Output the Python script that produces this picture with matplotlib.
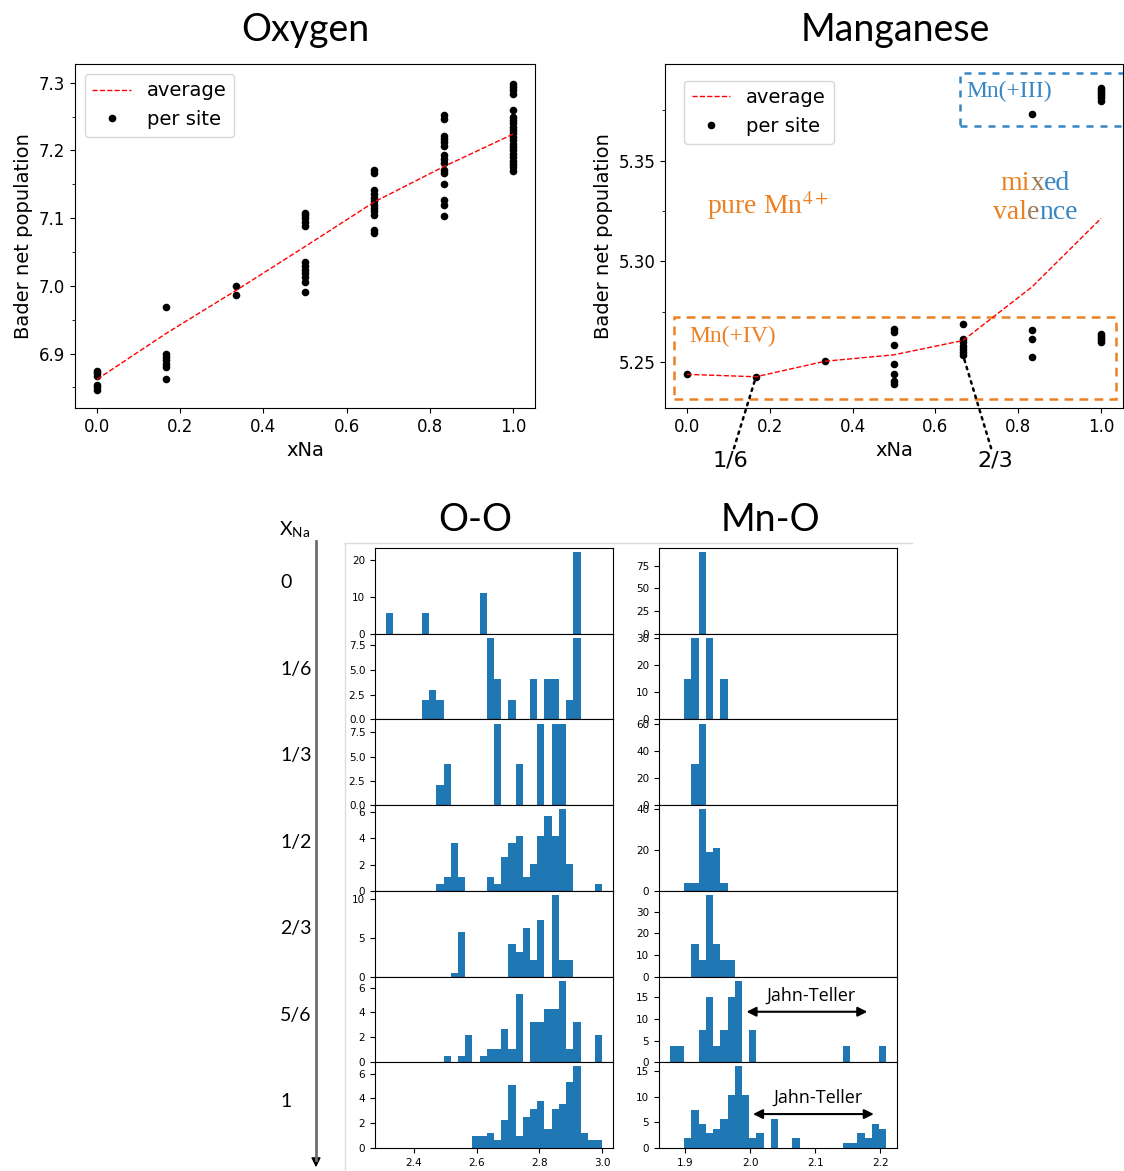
"""
Bader populations and bond-length histograms vs Na content.
Saves out.png (1124 x 1171 px).
"""
import numpy as np
import matplotlib
matplotlib.use("Agg")
import matplotlib.pyplot as plt
from matplotlib.ticker import AutoMinorLocator
from matplotlib.patches import Rectangle, FancyArrowPatch
from matplotlib.lines import Line2D
from matplotlib import transforms as mtransforms

plt.rcParams.update({
    'font.family': 'DejaVu Sans',
    'mathtext.fontset': 'stix',
})

W, H = 1124, 1171
ORANGE = '#ec8124'
BLUE = '#3785c3'
BROWN = '#9a7b5a'
BAR = '#1f77b4'

# ---------------------------------------------------------------------------
# data
# ---------------------------------------------------------------------------
XNA = [0, 1/6, 1/3, 1/2, 2/3, 5/6, 1]
XNA_LABELS = ['0', '1/6', '1/3', '1/2', '2/3', '5/6', '1']

OX_SITES = [
    [6.874, 6.871, 6.867, 6.853, 6.850, 6.847],
    [6.969, 6.900, 6.895, 6.890, 6.885, 6.880, 6.862],
    [7.000, 6.986],
    [7.108, 7.104, 7.100, 7.095, 7.089, 7.035, 7.030, 7.024, 7.019, 7.013,
     7.005, 6.991],
    [7.171, 7.166, 7.141, 7.136, 7.130, 7.125, 7.120, 7.115, 7.110, 7.104,
     7.082, 7.078],
    [7.252, 7.247, 7.222, 7.217, 7.212, 7.206, 7.193, 7.188, 7.181, 7.171,
     7.167, 7.151, 7.127, 7.120, 7.103],
    [7.298, 7.294, 7.289, 7.284, 7.259, 7.250, 7.245, 7.240, 7.235, 7.230,
     7.225, 7.220, 7.215, 7.210, 7.205, 7.200, 7.195, 7.190, 7.185, 7.180,
     7.175, 7.170],
]
OX_AVG = [6.862, 6.930, 6.993, 7.058, 7.124, 7.176, 7.224]

MN_SITES = [
    [5.2440],
    [5.2428],
    [5.2507],
    [5.2667, 5.2652, 5.2588, 5.2493, 5.2440, 5.2407, 5.2394],
    [5.2692, 5.2617, 5.2600, 5.2583, 5.2566, 5.2550, 5.2535],
    [5.3732, 5.2662, 5.2614, 5.2525],
    [5.3859, 5.3850, 5.3840, 5.3830, 5.3820, 5.3810, 5.3795,
     5.2639, 5.2630, 5.2620, 5.2610, 5.2600],
]
MN_AVG = [5.2440, 5.2428, 5.2505, 5.2537, 5.2608, 5.2874, 5.3214]

# O-O distances (A): 30 bins between 2.31 and 3.0, density per bin
OO_EDGES = np.linspace(2.31, 3.0, 31)
OO_HEIGHTS = [
    [5.5, 0, 0, 0, 0, 5.5, 0, 0, 0, 0, 0, 0, 0, 11.1, 0,
     0, 0, 0, 0, 0, 0, 0, 0, 0, 0, 0, 22.0, 0, 0, 0],
    [0, 0, 0, 0, 0, 2.0, 3.0, 2.0, 0, 0, 0, 0, 0, 0, 8.2,
     4.1, 0, 2.0, 0, 0, 4.1, 0, 4.1, 4.1, 0, 2.0, 8.2, 0, 0, 0],
    [0, 0, 0, 0, 0, 0, 0, 2.1, 4.2, 0, 0, 0, 0, 0, 0,
     8.4, 0, 0, 4.2, 0, 0, 8.4, 0, 8.4, 8.4, 0, 0, 0, 0, 0],
    [0, 0, 0, 0, 0, 0, 0, 0.52, 1.04, 3.63, 1.04, 0, 0, 0, 1.04,
     0.52, 2.59, 3.63, 4.15, 1.04, 2.07, 4.15, 5.70, 4.15, 6.22, 2.07, 0, 0, 0, 0.52],
    [0, 0, 0, 0, 0, 0, 0, 0, 0, 0.52, 5.7, 0, 0, 0, 0,
     0, 0, 4.2, 3.2, 6.3, 2.1, 7.3, 0, 10.5, 2.1, 2.1, 0, 0, 0, 0],
    [0, 0, 0, 0, 0, 0, 0, 0, 0.53, 0, 0.53, 2.17, 0, 0.53, 1.06,
     1.06, 2.7, 1.06, 5.44, 0, 3.26, 3.26, 4.3, 4.3, 6.55, 1.06, 3.26, 0, 0, 2.17],
    [0, 0, 0, 0, 0, 0, 0, 0, 0, 0, 0, 0, 0.93, 0.93, 1.25,
     0.67, 2.24, 5.07, 0.93, 2.53, 3.12, 3.76, 1.52, 3.12, 3.55, 5.33, 6.59, 1.25, 0.67, 0.67],
]

# Mn-O distances (A): 30 bins between 1.876 and 2.209
MNO_EDGES = np.linspace(1.876, 2.209, 31)
MNO_HEIGHTS = [
    [0, 0, 0, 0, 90, 0, 0, 0, 0, 0, 0, 0, 0, 0, 0,
     0, 0, 0, 0, 0, 0, 0, 0, 0, 0, 0, 0, 0, 0, 0],
    [0, 0, 15, 30, 0, 30, 0, 15, 0, 0, 0, 0, 0, 0, 0,
     0, 0, 0, 0, 0, 0, 0, 0, 0, 0, 0, 0, 0, 0, 0],
    [0, 0, 0, 30, 60, 0, 0, 0, 0, 0, 0, 0, 0, 0, 0,
     0, 0, 0, 0, 0, 0, 0, 0, 0, 0, 0, 0, 0, 0, 0],
    [0, 0, 3.6, 3.6, 39.7, 18.9, 20.7, 3.6, 0, 0, 0, 0, 0, 0, 0,
     0, 0, 0, 0, 0, 0, 0, 0, 0, 0, 0, 0, 0, 0, 0],
    [0, 0, 0, 15.2, 7.7, 37.7, 15.2, 7.7, 7.7, 0, 0, 0, 0, 0, 0,
     0, 0, 0, 0, 0, 0, 0, 0, 0, 0, 0, 0, 0, 0, 0],
    [3.8, 3.8, 0, 0, 7.5, 15.0, 3.8, 7.5, 15.0, 18.9, 0, 7.5, 0, 0, 0,
     0, 0, 0, 0, 0, 0, 0, 0, 0, 3.8, 0, 0, 0, 0, 3.8],
    [0, 0, 1.9, 7.5, 4.7, 2.9, 3.7, 5.7, 10.4, 16.0, 10.4, 1.9, 2.9, 0, 5.7,
     0, 0, 1.9, 0, 0, 0, 0, 0, 0, 1.0, 1.0, 2.9, 1.9, 4.7, 3.7],
]


def rect(left, top, right, bottom):
    """Pixel box (from top-left) -> figure fraction rect."""
    return [left / W, 1 - bottom / H, (right - left) / W, (bottom - top) / H]


def fx(x):
    return x / W


def fy(y):
    return 1 - y / H


def multicolor_text(ax, x, y, pieces, **kw):
    fig = ax.figure
    r = fig.canvas.get_renderer()
    texts = [ax.text(x, y, s, color=c, ha='left', va='baseline', **kw)
             for s, c in pieces]
    widths = [t.get_window_extent(r).width for t in texts]
    shift = -sum(widths) / 2
    for t, w in zip(texts, widths):
        t.set_transform(mtransforms.offset_copy(ax.transData, fig=fig,
                                                x=shift, units='dots'))
        shift += w


fig = plt.figure(figsize=(W / 100, H / 100), dpi=100)

# ---------------------------------------------------------------------------
# Oxygen
# ---------------------------------------------------------------------------
ax_o = fig.add_axes(rect(75, 64, 535, 408))
for x, vals in zip(XNA, OX_SITES):
    ax_o.scatter([x] * len(vals), vals, s=20, color='black', zorder=2)
avg_line, = ax_o.plot(XNA, OX_AVG, color='red', linestyle='--', lw=1, zorder=3)
dot = Line2D([], [], color='black', marker='o', markersize=4.5, linestyle='none')
ax_o.legend([avg_line, dot], ['average', 'per site'], loc='upper left', fontsize=14)
ax_o.set_xlim(-0.053, 1.053)
ax_o.set_ylim(6.8197, 7.3276)
ax_o.set_yticks([6.9, 7.0, 7.1, 7.2, 7.3])
ax_o.yaxis.set_minor_locator(AutoMinorLocator(2))
ax_o.tick_params(labelsize=12)
ax_o.set_xlabel('xNa', fontsize=14)
ax_o.set_ylabel('Bader net population', fontsize=14)
fig.text(fx(305), fy(30), 'Oxygen', family='Lato', fontsize=27,
         ha='center', va='center')

# ---------------------------------------------------------------------------
# Manganese
# ---------------------------------------------------------------------------
ax_m = fig.add_axes(rect(665, 64, 1123, 408))
for x, vals in zip(XNA, MN_SITES):
    ax_m.scatter([x] * len(vals), vals, s=20, color='black', zorder=2)
avg_line_m, = ax_m.plot(XNA, MN_AVG, color='red', linestyle='--', lw=1, zorder=3)
ax_m.legend([avg_line_m, dot], ['average', 'per site'], loc='upper left',
            bbox_to_anchor=(0.041, 0.952), borderaxespad=0, fontsize=14)
ax_m.set_xlim(-0.053, 1.053)
ax_m.set_ylim(5.2273, 5.398)
ax_m.set_yticks([5.25, 5.30, 5.35])
ax_m.yaxis.set_minor_locator(AutoMinorLocator(2))
ax_m.tick_params(labelsize=12)
ax_m.set_xlabel('xNa', fontsize=14)
ax_m.set_ylabel('Bader net population', fontsize=14)

ax_m.add_patch(Rectangle((-0.032, 5.232), 1.067, 0.0405, fill=False,
                         edgecolor=ORANGE, lw=1.8, linestyle=(0, (3.5, 2.5)),
                         clip_on=False, zorder=1))
ax_m.add_patch(Rectangle((0.659, 5.3674), 0.42, 0.0262, fill=False,
                         edgecolor=BLUE, lw=1.8, linestyle=(0, (2.8, 2.8)),
                         clip_on=False, zorder=1))
ax_m.text(0.007, 5.2626, 'Mn(+IV)', color=ORANGE, family='Liberation Serif',
          fontsize=17, va='center')
ax_m.text(0.674, 5.3843, 'Mn(+III)', color=BLUE, family='Liberation Serif',
          fontsize=17, va='center')
ax_m.text(0.049, 5.3235, 'pure Mn$^{4+}$', color=ORANGE,
          family='Liberation Serif', fontsize=20, va='baseline')
multicolor_text(ax_m, 0.842, 5.3354, [('mi', ORANGE), ('x', BROWN), ('ed', BLUE)],
                family='Liberation Serif', fontsize=20)
multicolor_text(ax_m, 0.842, 5.3209, [('val', ORANGE), ('e', BROWN), ('nce', BLUE)],
                family='Liberation Serif', fontsize=20)

for lab, xy, pos in [('1/6', (1/6, 5.2428), (730, 461)),
                     ('2/3', (2/3, 5.2535), (995, 461))]:
    ax_m.annotate(lab, xy=xy, xytext=(pos[0], H - pos[1]),
                  textcoords='figure pixels', ha='center', va='center',
                  fontsize=16, annotation_clip=False,
                  arrowprops=dict(arrowstyle='-', linestyle=(0, (1, 2)), lw=1.8,
                                  color='black', shrinkA=0, shrinkB=3))
fig.text(fx(895), fy(30), 'Manganese', family='Lato', fontsize=27,
         ha='center', va='center')

# ---------------------------------------------------------------------------
# bond-length histograms
# ---------------------------------------------------------------------------
HIST_TOP, HIST_BOT = 548, 1148
panel_h = (HIST_BOT - HIST_TOP) / 7

fig.add_artist(Line2D([fx(345), fx(912)], [fy(543), fy(543)],
                      transform=fig.transFigure, color='#dcdcdc', lw=1))
fig.add_artist(Line2D([fx(345), fx(345)], [fy(543), fy(1171)],
                      transform=fig.transFigure, color='#dcdcdc', lw=1))

oo_axes, mno_axes = [], []
for i in range(7):
    top = HIST_TOP + i * panel_h
    a1 = fig.add_axes(rect(375, top, 613, top + panel_h))
    a1.hist(OO_EDGES[:-1], bins=OO_EDGES, weights=OO_HEIGHTS[i], color=BAR)
    a2 = fig.add_axes(rect(659, top, 897, top + panel_h))
    a2.hist(MNO_EDGES[:-1], bins=MNO_EDGES, weights=MNO_HEIGHTS[i], color=BAR)
    for a in (a1, a2):
        a.tick_params(labelsize=7.5)
        if i < 6:
            a.tick_params(bottom=False, labelbottom=False)
    oo_axes.append(a1)
    mno_axes.append(a2)
    fig.text(fx(280), fy(583 + i * 86.4), XNA_LABELS[i], family='Lato',
             fontsize=14, ha='left', va='center')

oo_axes[-1].set_xticks([2.4, 2.6, 2.8, 3.0])
mno_axes[-1].set_xticks([1.9, 2.0, 2.1, 2.2])

for a, y_arrow, y_txt, x0, x1, xt in [
        (mno_axes[5], 11.7, 15.5, 1.994, 2.180, 2.093),
        (mno_axes[6], 6.65, 9.8, 2.004, 2.190, 2.104)]:
    a.annotate('', xy=(x1, y_arrow), xytext=(x0, y_arrow),
               arrowprops=dict(arrowstyle='<|-|>', color='black', lw=1.5,
                               mutation_scale=14, shrinkA=0, shrinkB=0))
    a.text(xt, y_txt, 'Jahn-Teller', family='Open Sans', fontsize=13,
           ha='center', va='center')

fig.text(fx(475), fy(520), 'O-O', family='Lato', fontsize=27,
         ha='center', va='center')
fig.text(fx(770), fy(520), 'Mn-O', family='Lato', fontsize=27,
         ha='center', va='center')
fig.text(fx(295), fy(530), r'X$_{\mathregular{Na}}$', family='Lato',
         fontsize=14, ha='center', va='center')

# x_Na direction arrow
fig.add_artist(Line2D([fx(316), fx(316)], [fy(541), fy(1160)],
                      transform=fig.transFigure, color='#6e6e6e', lw=2))
fig.add_artist(FancyArrowPatch((fx(316), fy(1156)), (fx(316), fy(1170)),
                               transform=fig.transFigure, arrowstyle='-|>',
                               mutation_scale=14, color='black', lw=1))

fig.savefig('out.png', dpi=100)
